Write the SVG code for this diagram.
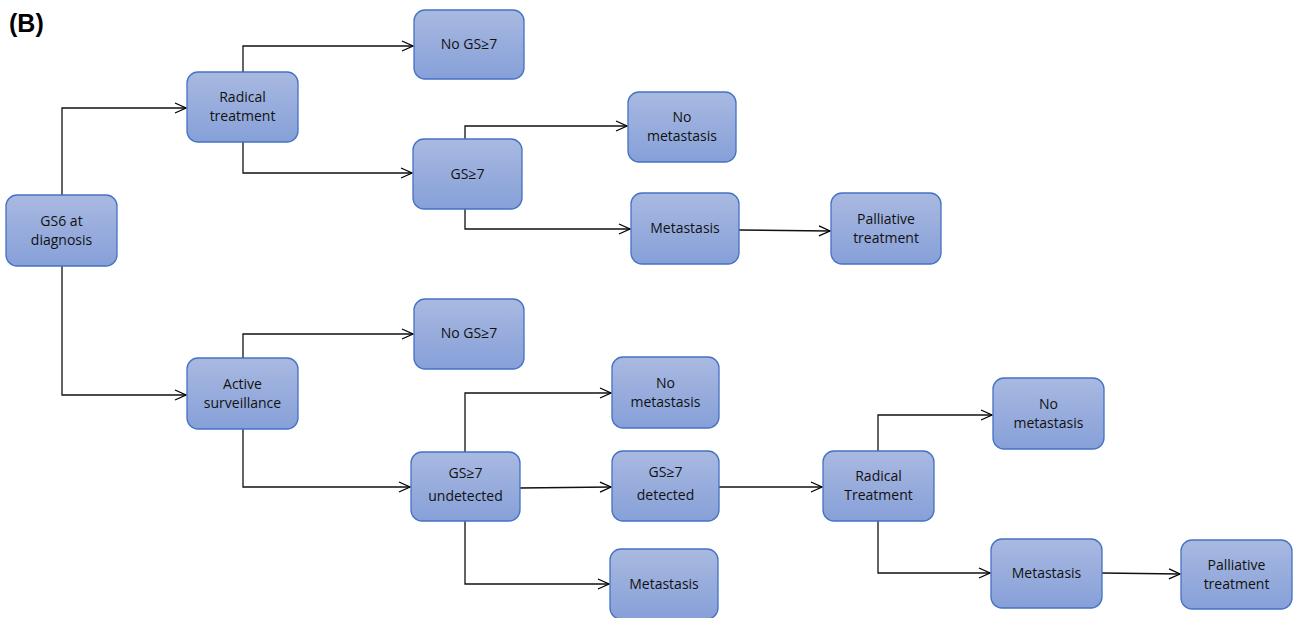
<svg xmlns="http://www.w3.org/2000/svg" width="1293" height="618" viewBox="0 0 1293 618">
<defs>
<linearGradient id="g" x1="0" y1="0" x2="0" y2="1">
<stop offset="0" stop-color="#a9b9e1"/>
<stop offset="1" stop-color="#86a0d8"/>
</linearGradient>
<marker id="arr" markerWidth="14" markerHeight="12" refX="12" refY="6" orient="auto" markerUnits="userSpaceOnUse">
<path d="M1,1 L12,6 L1,11" fill="none" stroke="#000" stroke-width="1.3"/>
</marker>
</defs>
<style>
.n rect{fill:url(#g);stroke:#4472c4;stroke-width:1.3}
.n text{font-family:"Open Sans","Noto Sans",sans-serif;font-size:14px;fill:#111;text-anchor:middle}
.c path{fill:none;stroke:#111;stroke-width:1.3;marker-end:url(#arr)}
.lbl{font-family:"Liberation Sans",Arial,sans-serif;font-weight:bold;font-size:25px;fill:#000}
</style>
<rect width="1293" height="618" fill="#fff"/>
<text class="lbl" x="9" y="32">(B)</text>
<g class="c">
<path d="M62,195 V108 H186"/>
<path d="M62,265 V395 H186"/>
<path d="M243,72 V46 H413"/>
<path d="M243,142 V173 H412"/>
<path d="M465,139 V126 H627"/>
<path d="M465,209 V229 H630"/>
<path d="M739,230 L830,231"/>
<path d="M243,358 V334 H413"/>
<path d="M243,429 V487 H410"/>
<path d="M465,452 V393 H611"/>
<path d="M520,488 L611,487"/>
<path d="M465,521 V584 H609"/>
<path d="M719,487 H822"/>
<path d="M878,451 V415 H992"/>
<path d="M878,521 V573 H990"/>
<path d="M1102,573 L1180,574"/>
</g>
<g id="gs6" class="n"><rect x="6" y="195" width="111" height="71" rx="11"/><text x="61.5" y="226">GS6 at</text><text x="61.5" y="245">diagnosis</text></g>
<g id="radical1" class="n"><rect x="187" y="72" width="111" height="70" rx="11"/><text x="242.5" y="102">Radical</text><text x="242.5" y="121">treatment</text></g>
<g id="nogs1" class="n"><rect x="414" y="10" width="110" height="69" rx="11"/><text x="469" y="49">No GS≥7</text></g>
<g id="gs7a" class="n"><rect x="413" y="139" width="109" height="70" rx="11"/><text x="467.5" y="179">GS≥7</text></g>
<g id="nomet1" class="n"><rect x="628" y="92" width="108" height="70" rx="11"/><text x="682" y="122">No</text><text x="682" y="141">metastasis</text></g>
<g id="met1" class="n"><rect x="631" y="193" width="108" height="71" rx="11"/><text x="685" y="233">Metastasis</text></g>
<g id="pall1" class="n"><rect x="831" y="193" width="110" height="71" rx="11"/><text x="886" y="224">Palliative</text><text x="886" y="243">treatment</text></g>
<g id="active" class="n"><rect x="187" y="358" width="111" height="71" rx="11"/><text x="242.5" y="389">Active</text><text x="242.5" y="408">surveillance</text></g>
<g id="nogs2" class="n"><rect x="414" y="299" width="110" height="70" rx="11"/><text x="469" y="338">No GS≥7</text></g>
<g id="undet" class="n"><rect x="411" y="452" width="109" height="69" rx="11"/><text x="465.5" y="478">GS≥7</text><text x="465.5" y="501">undetected</text></g>
<g id="nomet2" class="n"><rect x="612" y="357" width="107" height="71" rx="11"/><text x="665.5" y="388">No</text><text x="665.5" y="407">metastasis</text></g>
<g id="det" class="n"><rect x="612" y="451" width="107" height="70" rx="11"/><text x="665.5" y="477">GS≥7</text><text x="665.5" y="500">detected</text></g>
<g id="met2" class="n"><rect x="610" y="549" width="108" height="70" rx="11"/><text x="664" y="589">Metastasis</text></g>
<g id="radical2" class="n"><rect x="823" y="451" width="111" height="70" rx="11"/><text x="878.5" y="481">Radical</text><text x="878.5" y="500">Treatment</text></g>
<g id="nomet3" class="n"><rect x="993" y="378" width="111" height="71" rx="11"/><text x="1048.5" y="409">No</text><text x="1048.5" y="428">metastasis</text></g>
<g id="met3" class="n"><rect x="991" y="539" width="111" height="69" rx="11"/><text x="1046.5" y="578">Metastasis</text></g>
<g id="pall2" class="n"><rect x="1181" y="540" width="111" height="69" rx="11"/><text x="1236.5" y="570">Palliative</text><text x="1236.5" y="589">treatment</text></g>
</svg>
